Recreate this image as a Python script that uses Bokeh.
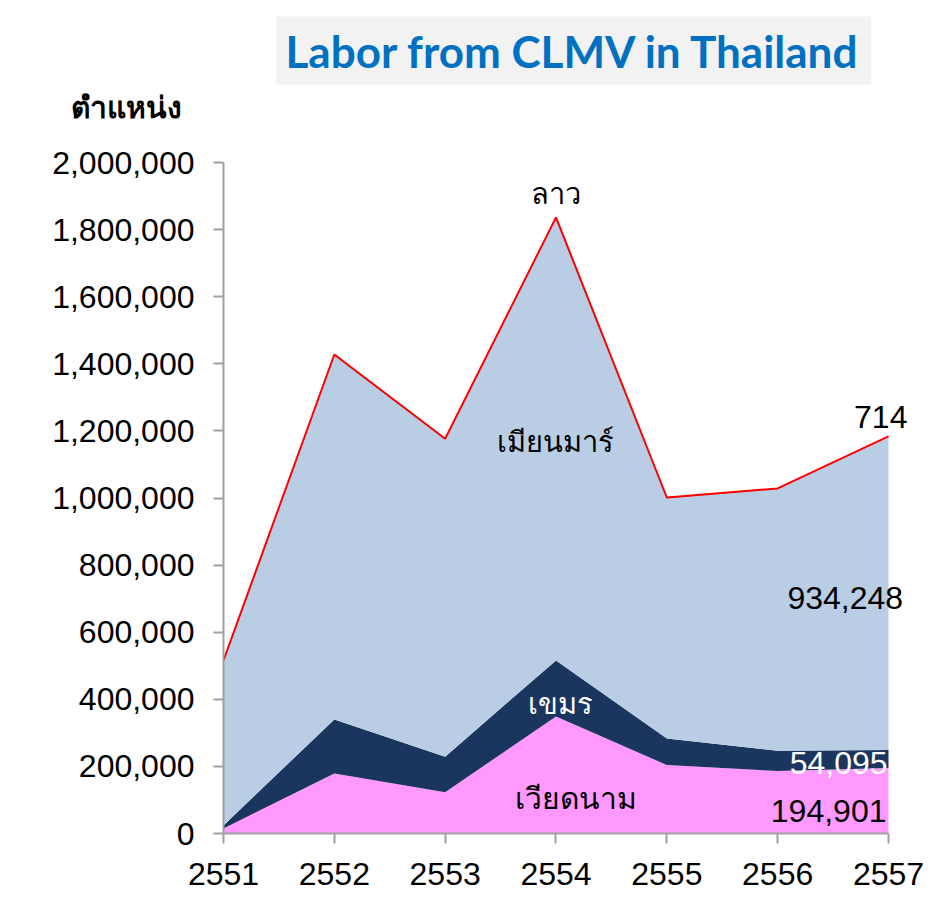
import numpy as np
from bokeh.plotting import figure
from bokeh.models import ColumnDataSource, Range1d, FixedTicker, NumeralTickFormatter, Label, Title
from bokeh.embed import file_html
from bokeh.resources import INLINE

years = [2551, 2552, 2553, 2554, 2555, 2556, 2557]
vietnam = [15000, 179000, 123000, 349000, 204000, 186000, 194901]
cambodia = [9000, 161000, 106000, 167000, 79000, 61000, 54095]
myanmar = [489600, 1084700, 945000, 1316400, 716500, 780000, 934248]
laos = [2000, 3000, 2500, 4000, 2000, 1500, 714]

names = ["vietnam", "cambodia", "myanmar", "laos"]
colors = ["#FF99FF", "#1B365E", "#B9CDE5", "#FF0000"]

src = ColumnDataSource(dict(year=years, vietnam=vietnam, cambodia=cambodia,
                            myanmar=myanmar, laos=laos))
total = (np.array(vietnam) + np.array(cambodia) + np.array(myanmar) + np.array(laos)).tolist()

p = figure(width=930, height=901, output_backend="svg", toolbar_location=None,
           x_range=Range1d(2551, 2557.379), y_range=Range1d(0, 2000000),
           min_border_left=223, min_border_right=0, min_border_top=162, min_border_bottom=68)
p.outline_line_color = None
p.xgrid.visible = False
p.ygrid.visible = False
p.background_fill_color = "white"
p.border_fill_color = "white"

p.varea_stack(stackers=names, x="year", color=colors, source=src)
p.line(years, total, line_color="#FF0000", line_width=2)

for ax in (p.xaxis[0], p.yaxis[0]):
    ax.axis_line_color = "#A0A0A0"
    ax.axis_line_width = 2
    ax.major_tick_line_color = "#A0A0A0"
    ax.major_tick_line_width = 2
    ax.major_tick_out = 10
    ax.major_tick_in = 0
    ax.minor_tick_line_color = None
    ax.major_label_text_font = "Liberation Sans"
    ax.major_label_text_font_size = "32px"
    ax.major_label_text_color = "black"
    ax.major_label_standoff = 19

p.xaxis.bounds = (years[0], years[-1])
p.xaxis.ticker = FixedTicker(ticks=years)
p.yaxis.ticker = FixedTicker(ticks=list(range(0, 2000001, 200000)))
p.yaxis.formatter = NumeralTickFormatter(format="0,0")

# main title (outermost)
p.title.text = "Labor from CLMV in Thailand"
p.title.text_font = "Lato"
p.title.text_font_style = "bold"
p.title.text_font_size = "44px"
p.title.text_color = "#0070C0"
p.title.align = "left"
p.title.offset = 53
p.title.standoff = -74
p.title.background_fill_color = "#F2F2F2"
p.title.padding = dict(left=9, right=10, top=8, bottom=8)

# unit label (nearest to the frame)
p.add_layout(Title(text="ตำแหน่ง", text_font="Noto Sans", text_font_style="bold",
                   text_font_size="30px", text_color="black", align="left",
                   offset=-153, standoff=72), "above")

def lab(x, y, t, color="black", size="29px"):
    p.add_layout(Label(x=x, y=y, text=t, text_font="Noto Sans", text_font_size=size,
                       text_color=color, text_align="center", text_baseline="middle"))

lab(2554.0, 1910000, "ลาว")
lab(2554.0, 1171000, "เมียนมาร์")
lab(2554.04, 390000, "เขมร", color="white")
lab(2554.18, 107000, "เวียดนาม", size="30px")

def num(v):
    return f"{v:,}"

def vlab(x, y, t, color="black"):
    p.add_layout(Label(x=x, y=y, text=t, text_font="Liberation Sans", text_font_size="32px",
                       text_color=color, text_align="center", text_baseline="middle"))

vlab(2556.93, 1240000, num(laos[-1]))
vlab(2556.61, 703000, num(myanmar[-1]))
vlab(2556.55, 209000, num(cambodia[-1]), color="white")
vlab(2556.46, 66000, num(vietnam[-1]))

open("out.html", "w").write(file_html(p, INLINE))
